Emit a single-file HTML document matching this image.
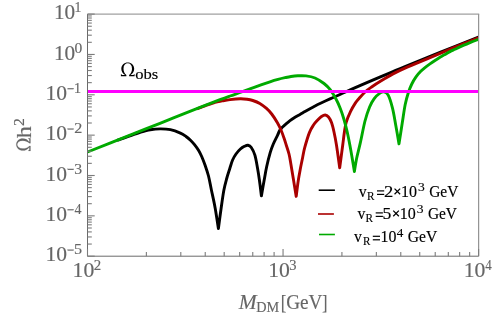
<!DOCTYPE html>
<html><head><meta charset="utf-8"><title>plot</title>
<style>
html,body{margin:0;padding:0;background:#fff;}
body{width:498px;height:323px;overflow:hidden;}
svg{display:block;font-family:"Liberation Serif",serif;will-change:transform;}
</style></head><body>
<svg width="498" height="323" viewBox="0 0 498 323">
<rect x="0" y="0" width="498" height="323" fill="#ffffff"/>

<defs><clipPath id="clip"><rect x="87.50" y="14.10" width="391.10" height="242.10"/></clipPath></defs>
<g clip-path="url(#clip)">
<path d="M117.00 140.45 C117.50 140.27 118.22 140.04 120.00 139.40 C121.78 138.76 125.37 137.43 127.70 136.60 C130.03 135.77 131.92 135.12 134.00 134.40 C136.08 133.68 137.50 133.07 140.20 132.30 C142.90 131.53 146.85 130.37 150.20 129.80 C153.55 129.23 156.93 128.92 160.30 128.90 C163.67 128.88 167.05 129.00 170.40 129.70 C173.75 130.40 177.80 131.97 180.40 133.10 C183.00 134.23 184.32 135.32 186.00 136.50 C187.68 137.68 189.08 138.85 190.50 140.20 C191.92 141.55 193.17 142.93 194.50 144.60 C195.83 146.27 197.30 148.22 198.50 150.20 C199.70 152.18 200.60 153.98 201.70 156.50 C202.80 159.02 203.97 162.05 205.10 165.30 C206.23 168.55 207.45 171.88 208.50 176.00 C209.55 180.12 210.30 184.72 211.40 190.00 C212.50 195.28 213.93 201.27 215.10 207.70 C216.27 214.13 217.85 225.12 218.40 228.60 C218.87 225.12 220.28 214.13 221.20 207.70 C222.12 201.27 222.98 194.87 223.90 190.00 C224.82 185.13 225.72 182.08 226.70 178.50 C227.68 174.92 228.83 171.55 229.80 168.50 C230.77 165.45 231.47 162.62 232.50 160.20 C233.53 157.78 234.68 155.87 236.00 154.00 C237.32 152.13 238.98 150.28 240.40 149.00 C241.82 147.72 243.23 146.92 244.50 146.30 C245.77 145.68 246.87 145.10 248.00 145.30 C249.13 145.50 250.15 145.85 251.30 147.50 C252.45 149.15 253.87 151.78 254.90 155.20 C255.93 158.62 256.75 163.87 257.50 168.00 C258.25 172.13 258.75 175.35 259.40 180.00 C260.05 184.65 261.07 193.25 261.40 195.90 C261.87 193.25 263.33 184.82 264.20 180.00 C265.07 175.18 265.60 171.55 266.60 167.00 C267.60 162.45 269.08 156.53 270.20 152.70 C271.32 148.87 272.07 146.93 273.30 144.00 C274.53 141.07 276.55 137.35 277.60 135.10 C278.65 132.85 278.87 131.77 279.60 130.50 C280.33 129.23 281.10 128.45 282.00 127.50 C282.90 126.55 283.67 125.95 285.00 124.80 C286.33 123.65 288.33 121.87 290.00 120.60 C291.67 119.33 293.33 118.23 295.00 117.20 C296.67 116.17 298.33 115.35 300.00 114.40 C301.67 113.45 303.33 112.45 305.00 111.50 C306.67 110.55 308.33 109.62 310.00 108.70 C311.67 107.78 313.33 106.87 315.00 106.00 C316.67 105.13 317.50 104.68 320.00 103.50 C322.50 102.32 326.67 100.40 330.00 98.90 C333.33 97.40 335.78 96.38 340.00 94.50 C344.22 92.62 348.57 90.53 355.30 87.60 C362.03 84.67 374.12 79.57 380.40 76.90 C386.68 74.23 388.90 73.33 393.00 71.60 C397.10 69.87 397.17 69.70 405.00 66.50 C412.83 63.30 427.75 57.32 440.00 52.40 C452.25 47.48 472.08 39.57 478.50 37.00" fill="none" stroke="#000000" stroke-width="2.90" stroke-linejoin="round" stroke-linecap="butt"/>
<path d="M197.00 108.85 C197.67 108.60 199.67 107.84 201.00 107.35 C202.33 106.86 202.67 106.74 205.00 105.90 C207.33 105.06 212.17 103.13 215.00 102.30 C217.83 101.47 219.50 101.35 222.00 100.90 C224.50 100.45 226.97 99.97 230.00 99.60 C233.03 99.23 237.37 98.77 240.20 98.70 C243.03 98.63 244.90 98.90 247.00 99.20 C249.10 99.50 250.67 99.80 252.80 100.50 C254.93 101.20 257.52 102.08 259.80 103.40 C262.08 104.72 264.52 106.63 266.50 108.40 C268.48 110.17 269.88 111.60 271.70 114.00 C273.52 116.40 275.85 120.13 277.40 122.80 C278.95 125.47 279.90 127.47 281.00 130.00 C282.10 132.53 283.12 135.47 284.00 138.00 C284.88 140.53 285.47 142.53 286.30 145.20 C287.13 147.87 288.27 151.03 289.00 154.00 C289.73 156.97 289.92 158.50 290.70 163.00 C291.48 167.50 292.78 175.43 293.70 181.00 C294.62 186.57 295.78 193.83 296.20 196.40 C296.53 193.83 297.52 185.57 298.20 181.00 C298.88 176.43 299.57 172.88 300.30 169.00 C301.03 165.12 301.87 161.25 302.60 157.70 C303.33 154.15 303.57 151.88 304.70 147.70 C305.83 143.52 307.93 136.38 309.40 132.60 C310.87 128.82 312.12 127.10 313.50 125.00 C314.88 122.90 316.37 121.42 317.70 120.00 C319.03 118.58 320.25 117.33 321.50 116.50 C322.75 115.67 324.03 114.92 325.20 115.00 C326.37 115.08 327.45 115.73 328.50 117.00 C329.55 118.27 330.58 120.10 331.50 122.60 C332.42 125.10 333.17 128.23 334.00 132.00 C334.83 135.77 335.55 139.23 336.50 145.20 C337.45 151.17 339.17 164.03 339.70 167.80 C340.20 164.03 341.92 151.17 342.70 145.20 C343.48 139.23 343.82 135.82 344.40 132.00 C344.98 128.18 345.17 125.73 346.20 122.30 C347.23 118.87 349.08 114.60 350.60 111.40 C352.12 108.20 353.90 105.25 355.30 103.10 C356.70 100.95 357.33 100.40 359.00 98.50 C360.67 96.60 363.13 93.67 365.30 91.70 C367.47 89.73 369.48 88.43 372.00 86.70 C374.52 84.97 376.90 83.43 380.40 81.30 C383.90 79.17 388.90 76.10 393.00 73.90 C397.10 71.70 398.83 70.82 405.00 68.10 C411.17 65.38 421.67 61.08 430.00 57.60 C438.33 54.12 446.92 50.50 455.00 47.20 C463.08 43.90 474.58 39.37 478.50 37.80" fill="none" stroke="#aa0000" stroke-width="2.90" stroke-linejoin="round" stroke-linecap="butt"/>
<path d="M87.50 152.00 C92.92 149.85 107.92 143.91 120.00 139.13 C132.08 134.34 146.67 128.57 160.00 123.29 C173.33 118.01 190.00 111.38 200.00 107.45 C210.00 103.52 215.00 101.61 220.00 99.70 C225.00 97.79 226.67 97.20 230.00 96.00 C233.33 94.80 236.67 93.68 240.00 92.50 C243.33 91.32 246.50 90.17 250.00 88.90 C253.50 87.63 257.67 86.08 261.00 84.90 C264.33 83.72 267.17 82.72 270.00 81.80 C272.83 80.88 275.50 80.08 278.00 79.40 C280.50 78.72 282.83 78.18 285.00 77.70 C287.17 77.22 288.85 76.82 291.00 76.50 C293.15 76.18 295.40 75.90 297.90 75.80 C300.40 75.70 303.15 75.53 306.00 75.90 C308.85 76.27 312.00 76.73 315.00 78.00 C318.00 79.27 321.47 81.55 324.00 83.50 C326.53 85.45 328.12 86.95 330.20 89.70 C332.28 92.45 334.82 96.87 336.50 100.00 C338.18 103.13 339.10 105.42 340.30 108.50 C341.50 111.58 342.58 114.75 343.70 118.50 C344.82 122.25 345.97 126.55 347.00 131.00 C348.03 135.45 348.98 140.37 349.90 145.20 C350.82 150.03 351.75 155.62 352.50 160.00 C353.25 164.38 354.08 169.58 354.40 171.50 C354.78 169.25 355.72 162.77 356.70 158.00 C357.68 153.23 358.92 149.07 360.30 142.90 C361.68 136.73 363.45 126.98 365.00 121.00 C366.55 115.02 368.07 110.73 369.60 107.00 C371.13 103.27 372.58 100.83 374.20 98.60 C375.82 96.37 377.67 94.72 379.30 93.60 C380.93 92.48 382.52 91.63 384.00 91.90 C385.48 92.17 386.78 92.48 388.20 95.20 C389.62 97.92 391.23 103.15 392.50 108.20 C393.77 113.25 394.72 119.55 395.80 125.50 C396.88 131.45 398.47 140.83 399.00 143.90 C399.53 140.47 401.17 129.87 402.20 123.30 C403.23 116.73 404.17 109.63 405.20 104.50 C406.23 99.37 407.30 95.92 408.40 92.50 C409.50 89.08 410.53 86.60 411.80 84.00 C413.07 81.40 414.55 78.97 416.00 76.90 C417.45 74.83 419.00 73.15 420.50 71.60 C422.00 70.05 423.42 68.88 425.00 67.60 C426.58 66.32 428.33 65.08 430.00 63.90 C431.67 62.72 433.33 61.60 435.00 60.50 C436.67 59.40 438.33 58.32 440.00 57.30 C441.67 56.28 443.33 55.35 445.00 54.40 C446.67 53.45 448.33 52.45 450.00 51.60 C451.67 50.75 453.33 50.08 455.00 49.30 C456.67 48.52 457.50 48.00 460.00 46.90 C462.50 45.80 466.92 43.97 470.00 42.70 C473.08 41.43 477.08 39.87 478.50 39.30" fill="none" stroke="#00aa00" stroke-width="2.90" stroke-linejoin="round" stroke-linecap="butt"/>
<line x1="87.50" y1="91.5" x2="478.60" y2="91.5" stroke="#ff00ff" stroke-width="2.9"/>
</g>
<path d="M87.50 14.10 H479.20" fill="none" stroke="#a0a0a0" stroke-width="1.3"/>
<path d="M478.60 14.10 V256.20" fill="none" stroke="#949494" stroke-width="1.25"/>
<path d="M87.50 14.10 V256.20 H478.60" fill="none" stroke="#6a6a6a" stroke-width="1"/>
<g stroke="#7c7c7c" stroke-width="1.1" fill="none"><line x1="87.50" y1="256.20" x2="94.70" y2="256.20"/><line x1="87.50" y1="244.05" x2="91.80" y2="244.05"/><line x1="87.50" y1="236.95" x2="91.80" y2="236.95"/><line x1="87.50" y1="231.91" x2="91.80" y2="231.91"/><line x1="87.50" y1="228.00" x2="91.80" y2="228.00"/><line x1="87.50" y1="224.80" x2="91.80" y2="224.80"/><line x1="87.50" y1="222.10" x2="91.80" y2="222.10"/><line x1="87.50" y1="219.76" x2="91.80" y2="219.76"/><line x1="87.50" y1="217.70" x2="91.80" y2="217.70"/><line x1="87.50" y1="215.85" x2="94.70" y2="215.85"/><line x1="87.50" y1="203.70" x2="91.80" y2="203.70"/><line x1="87.50" y1="196.60" x2="91.80" y2="196.60"/><line x1="87.50" y1="191.56" x2="91.80" y2="191.56"/><line x1="87.50" y1="187.65" x2="91.80" y2="187.65"/><line x1="87.50" y1="184.45" x2="91.80" y2="184.45"/><line x1="87.50" y1="181.75" x2="91.80" y2="181.75"/><line x1="87.50" y1="179.41" x2="91.80" y2="179.41"/><line x1="87.50" y1="177.35" x2="91.80" y2="177.35"/><line x1="87.50" y1="175.50" x2="94.70" y2="175.50"/><line x1="87.50" y1="163.35" x2="91.80" y2="163.35"/><line x1="87.50" y1="156.25" x2="91.80" y2="156.25"/><line x1="87.50" y1="151.21" x2="91.80" y2="151.21"/><line x1="87.50" y1="147.30" x2="91.80" y2="147.30"/><line x1="87.50" y1="144.10" x2="91.80" y2="144.10"/><line x1="87.50" y1="141.40" x2="91.80" y2="141.40"/><line x1="87.50" y1="139.06" x2="91.80" y2="139.06"/><line x1="87.50" y1="137.00" x2="91.80" y2="137.00"/><line x1="87.50" y1="135.15" x2="94.70" y2="135.15"/><line x1="87.50" y1="123.00" x2="91.80" y2="123.00"/><line x1="87.50" y1="115.90" x2="91.80" y2="115.90"/><line x1="87.50" y1="110.86" x2="91.80" y2="110.86"/><line x1="87.50" y1="106.95" x2="91.80" y2="106.95"/><line x1="87.50" y1="103.75" x2="91.80" y2="103.75"/><line x1="87.50" y1="101.05" x2="91.80" y2="101.05"/><line x1="87.50" y1="98.71" x2="91.80" y2="98.71"/><line x1="87.50" y1="96.65" x2="91.80" y2="96.65"/><line x1="87.50" y1="94.80" x2="94.70" y2="94.80"/><line x1="87.50" y1="82.65" x2="91.80" y2="82.65"/><line x1="87.50" y1="75.55" x2="91.80" y2="75.55"/><line x1="87.50" y1="70.51" x2="91.80" y2="70.51"/><line x1="87.50" y1="66.60" x2="91.80" y2="66.60"/><line x1="87.50" y1="63.40" x2="91.80" y2="63.40"/><line x1="87.50" y1="60.70" x2="91.80" y2="60.70"/><line x1="87.50" y1="58.36" x2="91.80" y2="58.36"/><line x1="87.50" y1="56.30" x2="91.80" y2="56.30"/><line x1="87.50" y1="54.45" x2="94.70" y2="54.45"/><line x1="87.50" y1="42.30" x2="91.80" y2="42.30"/><line x1="87.50" y1="35.20" x2="91.80" y2="35.20"/><line x1="87.50" y1="30.16" x2="91.80" y2="30.16"/><line x1="87.50" y1="26.25" x2="91.80" y2="26.25"/><line x1="87.50" y1="23.05" x2="91.80" y2="23.05"/><line x1="87.50" y1="20.35" x2="91.80" y2="20.35"/><line x1="87.50" y1="18.01" x2="91.80" y2="18.01"/><line x1="87.50" y1="15.95" x2="91.80" y2="15.95"/><line x1="87.50" y1="14.10" x2="94.70" y2="14.10"/><line x1="87.50" y1="256.20" x2="87.50" y2="249.00"/><line x1="146.37" y1="256.20" x2="146.37" y2="251.90"/><line x1="180.80" y1="256.20" x2="180.80" y2="251.90"/><line x1="205.23" y1="256.20" x2="205.23" y2="251.90"/><line x1="224.18" y1="256.20" x2="224.18" y2="251.90"/><line x1="239.67" y1="256.20" x2="239.67" y2="251.90"/><line x1="252.76" y1="256.20" x2="252.76" y2="251.90"/><line x1="264.10" y1="256.20" x2="264.10" y2="251.90"/><line x1="274.10" y1="256.20" x2="274.10" y2="251.90"/><line x1="283.05" y1="256.20" x2="283.05" y2="249.00"/><line x1="341.92" y1="256.20" x2="341.92" y2="251.90"/><line x1="376.35" y1="256.20" x2="376.35" y2="251.90"/><line x1="400.78" y1="256.20" x2="400.78" y2="251.90"/><line x1="419.73" y1="256.20" x2="419.73" y2="251.90"/><line x1="435.22" y1="256.20" x2="435.22" y2="251.90"/><line x1="448.31" y1="256.20" x2="448.31" y2="251.90"/><line x1="459.65" y1="256.20" x2="459.65" y2="251.90"/><line x1="469.65" y1="256.20" x2="469.65" y2="251.90"/><line x1="478.60" y1="256.20" x2="478.60" y2="249.00"/></g>
<g fill="#666666" stroke="#666666" stroke-width="0.15"><text transform="translate(45.41,261.40) scale(1.0640,1)" font-size="20.30">10</text><rect x="67.7" y="249.60" width="6.0" height="1.0"/><text transform="translate(73.97,254.40) scale(1.1374,1)" font-size="14.20">5</text><text transform="translate(45.41,221.05) scale(1.0640,1)" font-size="20.30">10</text><rect x="67.7" y="209.25" width="6.0" height="1.0"/><text transform="translate(74.62,214.05) scale(0.9883,1)" font-size="14.14">4</text><text transform="translate(45.41,180.70) scale(1.0640,1)" font-size="20.30">10</text><rect x="67.7" y="168.90" width="6.0" height="1.0"/><text transform="translate(74.15,173.70) scale(1.1225,1)" font-size="14.04">3</text><text transform="translate(45.41,140.35) scale(1.0640,1)" font-size="20.30">10</text><rect x="67.7" y="128.55" width="6.0" height="1.0"/><text transform="translate(74.21,133.35) scale(1.1504,1)" font-size="14.04">2</text><text transform="translate(45.41,100.00) scale(1.0640,1)" font-size="20.30">10</text><rect x="67.7" y="88.20" width="6.0" height="1.0"/><text transform="translate(73.96,93.00) scale(1.0066,1)" font-size="14.09">1</text><text transform="translate(53.94,59.65) scale(1.0471,1)" font-size="20.30">10</text><text transform="translate(74.42,52.65) scale(1.1104,1)" font-size="13.98">0</text><text transform="translate(53.94,19.30) scale(1.0471,1)" font-size="20.30">10</text><text transform="translate(74.41,12.30) scale(0.9664,1)" font-size="14.09">1</text><text transform="translate(72.60,276.70) scale(1.0696,1)" font-size="20.30">10</text><text transform="translate(93.87,270.20) scale(1.0619,1)" font-size="14.04">2</text><text transform="translate(268.15,276.70) scale(1.0696,1)" font-size="20.30">10</text><text transform="translate(289.36,270.20) scale(1.0362,1)" font-size="14.04">3</text><text transform="translate(463.70,276.70) scale(1.0696,1)" font-size="20.30">10</text><text transform="translate(485.34,270.20) scale(0.9122,1)" font-size="14.14">4</text></g>
<g fill="#666666" stroke="#666666" stroke-width="0.15">
<g transform="translate(30.5,151.0) rotate(-90)">
<path d="M0.00 0.00 L0.00 -2.13 L0.58 -2.13 L0.96 -1.21 L3.84 -1.21 C1.54 -2.84 0.38 -5.11 0.38 -7.67 C0.38 -11.64 3.07 -14.20 6.40 -14.20 C9.73 -14.20 12.42 -11.64 12.42 -7.67 C12.42 -5.11 11.26 -2.84 8.96 -1.21 L11.84 -1.21 L12.22 -2.13 L12.80 -2.13 L12.80 0.00 L7.68 0.00 L7.68 -1.14 C9.47 -2.84 10.37 -5.11 10.37 -7.67 C10.37 -11.36 8.70 -13.28 6.40 -13.28 C4.10 -13.28 2.43 -11.36 2.43 -7.67 C2.43 -5.11 3.33 -2.84 5.12 -1.14 L5.12 0.00 Z"/>
<text transform="translate(12.86,0.00) scale(1.1705,1)" font-size="20.58">h</text>
<text transform="translate(25.03,-7.00) scale(1.0267,1)" font-size="15.25">2</text>
</g>
<text transform="translate(238.87,308.70) scale(1.0756,1)" font-size="20.00" font-style="italic">M</text>
<text transform="translate(256.31,311.80) scale(0.9446,1)" font-size="15.11">DM</text>
<text transform="translate(280.72,308.90) scale(0.8478,1)" font-size="20.14">[</text>
<text transform="translate(286.23,309.00) scale(0.9414,1)" font-size="20.38">GeV</text>
<text transform="translate(322.12,308.90) scale(0.8163,1)" font-size="20.14">]</text>
</g>
<g fill="#000">
<path d="M120.90 76.20 L120.90 74.13 L121.52 74.13 L121.93 75.03 L125.01 75.03 C122.54 73.44 121.31 71.23 121.31 68.75 C121.31 64.88 124.19 62.40 127.75 62.40 C131.31 62.40 134.19 64.88 134.19 68.75 C134.19 71.23 132.96 73.44 130.49 75.03 L133.57 75.03 L133.98 74.13 L134.60 74.13 L134.60 76.20 L129.12 76.20 L129.12 75.10 C131.04 73.44 132.00 71.23 132.00 68.75 C132.00 65.16 130.22 63.30 127.75 63.30 C125.28 63.30 123.50 65.16 123.50 68.75 C123.50 71.23 124.46 73.44 126.38 75.10 L126.38 76.20 Z"/>
<text transform="translate(135.28,79.40) scale(1.1186,1)" font-size="14.82" stroke="#000" stroke-width="0.15">obs</text>
</g>
<g stroke-width="1.6">
<line x1="318.7" y1="190.2" x2="334.9" y2="190.2" stroke="#000"/>
<line x1="318.0" y1="214.0" x2="333.9" y2="214.0" stroke="#aa0000"/>
<line x1="319.0" y1="234.5" x2="334.9" y2="234.5" stroke="#00aa00"/>
</g>
<g fill="#000" stroke="#000" stroke-width="0.15">
<text transform="translate(358.70,196.70) scale(0.9691,1)" font-size="16.30">v</text><text transform="translate(366.89,199.80) scale(0.8703,1)" font-size="12.98">R</text><rect x="377.00" y="190.30" width="7.20" height="1.2" stroke="none"/><rect x="377.00" y="193.80" width="7.20" height="1.2" stroke="none"/><text transform="translate(383.91,196.70) scale(1.1757,1)" font-size="15.85">2</text><path d="M394.55 188.60 L400.15 194.20 M394.55 194.20 L400.15 188.60" stroke="#000" stroke-width="1.25" fill="none"/><text transform="translate(401.00,196.70) scale(1.0133,1)" font-size="15.79">10</text><text transform="translate(417.96,191.40) scale(1.0338,1)" font-size="13.13">3</text><text transform="translate(429.18,196.70) scale(0.9549,1)" font-size="16.15">GeV</text><text transform="translate(357.40,218.70) scale(0.9691,1)" font-size="16.30">v</text><text transform="translate(365.59,221.80) scale(0.8703,1)" font-size="12.98">R</text><rect x="375.70" y="212.30" width="7.20" height="1.2" stroke="none"/><rect x="375.70" y="215.80" width="7.20" height="1.2" stroke="none"/><text transform="translate(382.59,218.70) scale(1.1110,1)" font-size="15.88">5</text><path d="M393.25 210.60 L398.85 216.20 M393.25 216.20 L398.85 210.60" stroke="#000" stroke-width="1.25" fill="none"/><text transform="translate(399.70,218.70) scale(1.0133,1)" font-size="15.79">10</text><text transform="translate(416.66,213.40) scale(1.0338,1)" font-size="13.13">3</text><text transform="translate(427.88,218.70) scale(0.9549,1)" font-size="16.15">GeV</text><text transform="translate(354.00,242.10) scale(0.9691,1)" font-size="16.30">v</text><text transform="translate(362.99,245.20) scale(0.8582,1)" font-size="12.98">R</text><rect x="372.80" y="235.70" width="7.20" height="1.2" stroke="none"/><rect x="372.80" y="239.20" width="7.20" height="1.2" stroke="none"/><text transform="translate(380.61,242.10) scale(1.0061,1)" font-size="15.79">10</text><text transform="translate(396.74,236.80) scale(1.0147,1)" font-size="12.93">4</text><text transform="translate(407.78,242.10) scale(0.9650,1)" font-size="16.15">GeV</text>
</g>
</svg></body></html>
